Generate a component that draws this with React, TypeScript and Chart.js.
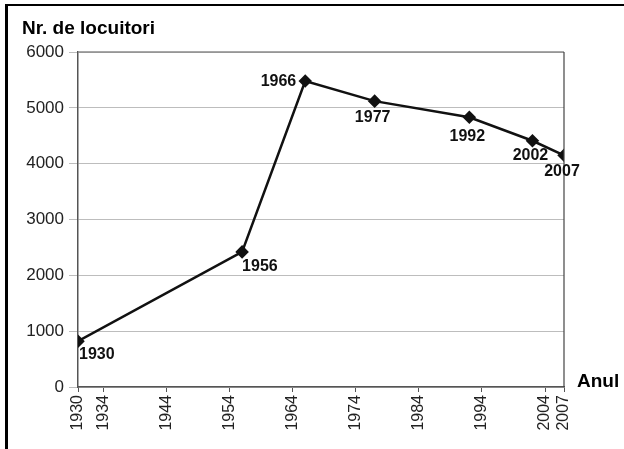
import React, { useEffect, useRef } from "react";
import { Chart, registerables } from "chart.js";

Chart.register(...registerables);

const YEARS = [1930, 1956, 1966, 1977, 1992, 2002, 2007];
const POPULATION = [820, 2420, 5480, 5120, 4830, 4410, 4150];
const X_TICKS = [1930, 1934, 1944, 1954, 1964, 1974, 1984, 1994, 2004, 2007];
const Y_TITLE = "Nr. de locuitori";
const X_TITLE = "Anul";

// label placement per point: [dx, dy, align]
const LABEL_PLACEMENT: [number, number, CanvasTextAlign][] = [
  [1, 13, "left"],
  [0, 15, "left"],
  [-9, 1, "right"],
  [-2, 16, "center"],
  [-2, 19, "center"],
  [-2, 15, "center"],
  [-2, 16, "center"],
];

const FONT = '"Liberation Sans", Arial, Helvetica, sans-serif';

export default function App() {
  const ref = useRef<HTMLCanvasElement | null>(null);

  useEffect(() => {
    if (!ref.current) return;

    const decor = {
      id: "decor",
      afterDraw(chart: any) {
        const { ctx, chartArea } = chart;
        ctx.save();
        // frame top and right
        ctx.strokeStyle = "#8a8a8a";
        ctx.lineWidth = 1.5;
        ctx.beginPath();
        ctx.moveTo(chartArea.left, chartArea.top);
        ctx.lineTo(chartArea.right, chartArea.top);
        ctx.stroke();
        ctx.strokeStyle = "#444";
        ctx.lineWidth = 1.2;
        ctx.beginPath();
        ctx.moveTo(chartArea.right, chartArea.top);
        ctx.lineTo(chartArea.right, chartArea.bottom);
        ctx.stroke();

        // titles
        ctx.fillStyle = "#000";
        ctx.font = `bold 19px ${FONT}`;
        ctx.textAlign = "left";
        ctx.textBaseline = "middle";
        ctx.fillText(Y_TITLE, 22, 29);
        ctx.fillText(X_TITLE, chartArea.right + 13, chartArea.bottom - 5);

        // point labels
        const meta = chart.getDatasetMeta(0);
        ctx.font = `bold 16px ${FONT}`;
        meta.data.forEach((pt: any, i: number) => {
          const [dx, dy, align] = LABEL_PLACEMENT[i];
          ctx.textAlign = align;
          ctx.textBaseline = "middle";
          ctx.fillStyle = "#111";
          ctx.fillText(String(YEARS[i]), pt.x + dx, pt.y + dy);
        });
        ctx.restore();
      },
    };

    const chart = new Chart(ref.current, {
      type: "line",
      data: {
        datasets: [
          {
            data: YEARS.map((y, i) => ({ x: y, y: POPULATION[i] })),
            borderColor: "#111",
            backgroundColor: "#111",
            borderWidth: 2.5,
            pointStyle: "rectRot",
            pointRadius: 5,
            pointBackgroundColor: "#111",
            pointBorderColor: "#111",
            tension: 0,
          },
        ],
      },
      options: {
        responsive: false,
        animation: false,
        layout: { padding: { top: 52, right: 60, left: 0, bottom: 0 } },
        plugins: {
          legend: { display: false },
          tooltip: { enabled: false },
          title: { display: false },
        },
        scales: {
          x: {
            type: "linear",
            min: 1930,
            max: 2007,
            afterBuildTicks: (scale: any) => {
              scale.ticks = X_TICKS.map((v) => ({ value: v }));
            },
            afterFit: (scale: any) => {
              scale.height = 62;
            },
            grid: {
              drawOnChartArea: false,
              drawTicks: true,
              tickLength: 5,
              color: "#555",
            },
            border: { display: true, color: "#555", width: 1.5 },
            ticks: {
              autoSkip: false,
              minRotation: 90,
              maxRotation: 90,
              padding: 3,
              color: "#222",
              font: { family: FONT, size: 16 },
              callback: (v: any) => String(v),
            },
          },
          y: {
            min: 0,
            max: 6000,
            afterFit: (scale: any) => {
              scale.width = 78;
            },
            grid: {
              color: "#bdbdbd",
              lineWidth: 1,
              drawTicks: true,
              tickLength: 9,
            },
            border: { display: true, color: "#555", width: 1.5 },
            ticks: {
              stepSize: 1000,
              padding: 5,
              color: "#222",
              font: { family: FONT, size: 17 },
              callback: (v: any) => String(v),
            },
          },
        },
      },
      plugins: [decor],
    });

    return () => chart.destroy();
  }, []);

  return (
    <div style={{ position: "absolute", left: 0, top: 0, width: 624, height: 449, background: "#fff" }}>
      <canvas ref={ref} width={624} height={449} style={{ position: "absolute", left: 0, top: 0 }} />
      <div
        style={{
          position: "absolute",
          left: 5,
          top: 4,
          right: 0,
          bottom: 0,
          borderTop: "2px solid #000",
          borderLeft: "3px solid #000",
          pointerEvents: "none",
        }}
      />
    </div>
  );
}
